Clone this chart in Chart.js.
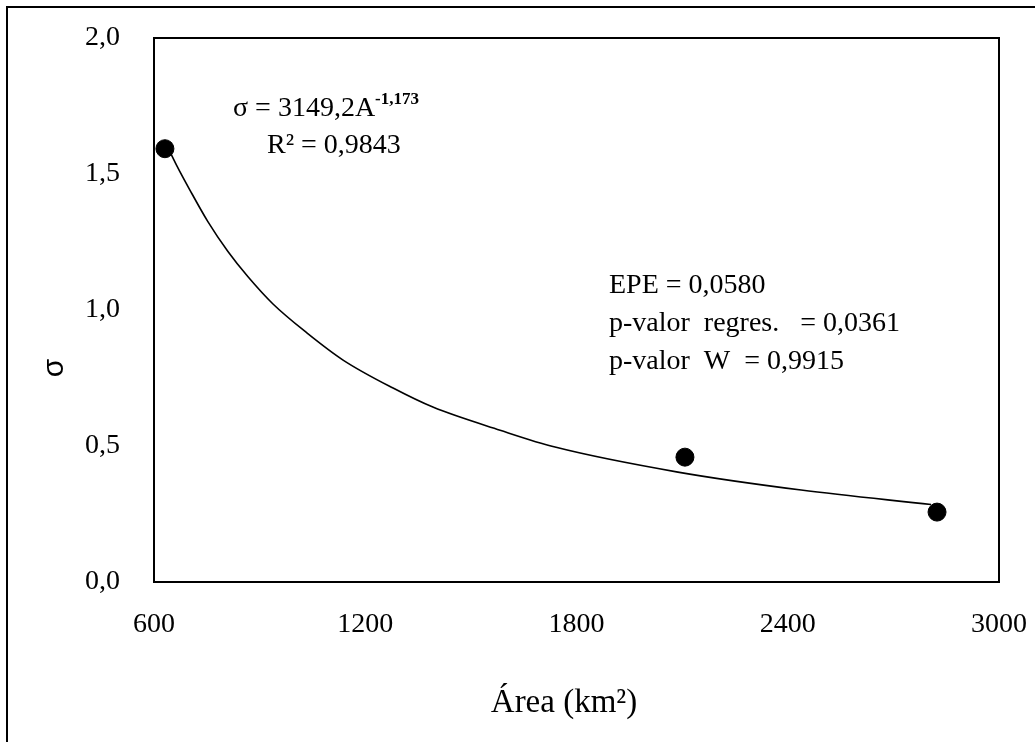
<!DOCTYPE html>
<html>
<head>
<meta charset="utf-8">
<script src="https://cdn.jsdelivr.net/npm/chart.js@4"></script>
<style>
  html, body { margin: 0; padding: 0; background: #fff; overflow: hidden; }
  #frame { position: absolute; left: 6px; top: 6px; width: 1100px; height: 800px;
           border-left: 2px solid #000; border-top: 2px solid #000; pointer-events: none; }
  canvas { position: absolute; left: 0; top: 0; }
</style>
</head>
<body>
<canvas id="c" width="1035" height="742"></canvas>
<div id="frame"></div>
<script>
// observed points
const areas = [631, 2108, 2824];
const sigmas = [1.593, 0.459, 0.257];

// power trend line
const trendAreas = [631, 665, 702, 753, 810, 867, 938, 1035, 1137, 1279, 1392, 1583, 1739, 2088, 2438, 2807];
const trendSigmas = [1.620, 1.530, 1.441, 1.325, 1.215, 1.122, 1.022, 0.915, 0.816, 0.713, 0.643, 0.558, 0.496, 0.404, 0.338, 0.285];

const xTicks = [600, 1200, 1800, 2400, 3000];
const yTicks = [0, 0.5, 1.0, 1.5, 2.0];

const serif = '"Liberation Serif", "Times New Roman", serif';

const textPlugin = {
  id: "texts",
  afterDraw(chart) {
    const { ctx, chartArea: a } = chart;
    ctx.save();

    // plot box
    ctx.strokeStyle = "#000";
    ctx.lineWidth = 2;
    ctx.strokeRect(a.left, a.top, a.right - a.left, a.bottom - a.top);

    ctx.fillStyle = "#000";
    ctx.textBaseline = "alphabetic";
    ctx.textAlign = "left";

    // equation
    ctx.font = `28px ${serif}`;
    const eq = "σ = 3149,2A";
    ctx.fillText(eq, 233, 116);
    const w = ctx.measureText(eq).width;
    ctx.font = `bold 17px ${serif}`;
    ctx.fillText("-1,173", 233 + w, 104);
    ctx.font = `28px ${serif}`;
    ctx.fillText("R² = 0,9843", 267, 153);

    // stats
    ["EPE = 0,0580", "p-valor  regres.   = 0,0361", "p-valor  W  = 0,9915"].forEach((t, i) => {
      ctx.fillText(t, 609, 293 + i * 38);
    });

    // x title
    ctx.font = `33px ${serif}`;
    ctx.textAlign = "center";
    ctx.fillText("Área (km²)", 564, 712);

    // y title
    ctx.translate(55, 368);
    ctx.rotate(-Math.PI / 2);
    ctx.font = '30px "Liberation Sans", Arial, sans-serif';
    ctx.textBaseline = "middle";
    ctx.fillText("σ", 0, 0);

    ctx.restore();
  },
};

new Chart(document.getElementById("c"), {
  type: "scatter",
  data: {
    datasets: [
      {
        data: areas.map((x, i) => ({ x, y: sigmas[i] })),
        backgroundColor: "#000",
        borderColor: "#000",
        pointRadius: 9,
        pointHoverRadius: 9,
        order: 1,
      },
      {
        data: trendAreas.map((x, i) => ({ x, y: trendSigmas[i] })),
        showLine: true,
        borderColor: "#000",
        borderWidth: 1.6,
        pointRadius: 0,
        cubicInterpolationMode: "monotone",
        order: 2,
      },
    ],
  },
  options: {
    animation: false,
    responsive: false,
    events: [],
    layout: { padding: { left: 0, top: 38, right: 36, bottom: 0 } },
    plugins: { legend: { display: false }, tooltip: { enabled: false } },
    scales: {
      x: {
        type: "linear",
        min: 600,
        max: 3000,
        afterBuildTicks: (s) => { s.ticks = xTicks.map((v) => ({ value: v })); },
        afterFit: (s) => { s.height = 160; s.paddingLeft = 0; s.paddingRight = 0; },
        grid: { display: false },
        border: { display: false },
        ticks: {
          color: "#000",
          padding: 18,
          font: { family: serif, size: 28 },
          callback: (v) => String(v),
        },
      },
      y: {
        min: 0,
        max: 2,
        afterBuildTicks: (s) => { s.ticks = yTicks.map((v) => ({ value: v })); },
        afterFit: (s) => { s.width = 154; s.paddingTop = 0; s.paddingBottom = 0; },
        grid: { display: false },
        border: { display: false },
        ticks: {
          color: "#000",
          padding: 26,
          font: { family: serif, size: 28 },
          callback: (v) => v.toFixed(1).replace(".", ","),
        },
      },
    },
  },
  plugins: [textPlugin],
});
</script>
</body>
</html>
